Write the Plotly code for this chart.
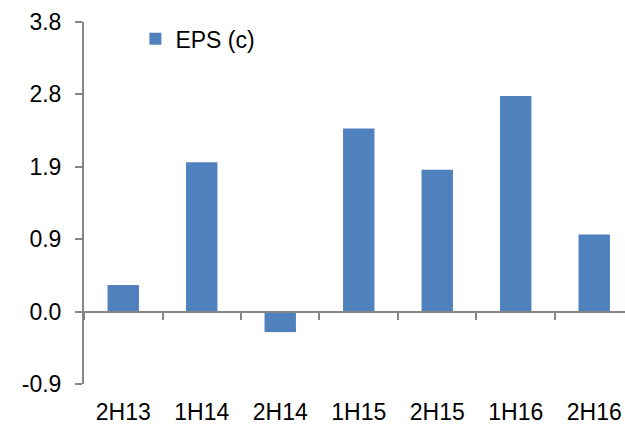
import plotly.graph_objects as go

# Half-year periods and earnings per share (cents)
periods = ["2H13", "1H14", "2H14", "1H15", "2H15", "1H16", "2H16"]
eps_cents = [0.345, 1.94, -0.266, 2.376, 1.842, 2.80, 1.00]

# Value-axis scale: major unit 0.94 from -0.94 to 3.76
y_min, y_max, y_step = -0.94, 3.76, 0.94
y_ticks = [round(y_min + i * y_step, 2) for i in range(6)]
y_tick_labels = [f"{v:.1f}" for v in y_ticks]

BAR_BLUE = "#4F81BD"
AXIS_GREY = "#868686"
FONT = "Liberation Sans, Arial, sans-serif"

fig = go.Figure()

fig.add_trace(go.Bar(
    x=periods,
    y=eps_cents,
    name="EPS (c)",
    marker=dict(color=BAR_BLUE, line=dict(width=0)),
    width=0.4,
    xaxis="x",
    yaxis="y",
))

# Invisible companion trace so the crossing axis at zero knows its categories
fig.add_trace(go.Scatter(
    x=periods,
    y=eps_cents,
    mode="markers",
    marker=dict(opacity=0),
    showlegend=False,
    hoverinfo="skip",
    xaxis="x2",
    yaxis="y",
))

x_range = [-0.5, 6.392]

fig.update_layout(
    width=625,
    height=425,
    margin=dict(l=84, r=0, t=22, b=39, pad=0),
    paper_bgcolor="white",
    plot_bgcolor="white",
    font=dict(family=FONT, size=23, color="black"),
    showlegend=True,
    legend=dict(
        x=0.095, y=1.013, xanchor="left", yanchor="top",
        bgcolor="rgba(0,0,0,0)",
        font=dict(family=FONT, size=23, color="black"),
        itemwidth=30,
    ),
    xaxis=dict(
        type="category",
        categoryorder="array",
        categoryarray=periods,
        range=x_range,
        showline=False,
        showgrid=False,
        zeroline=False,
        ticks="",
        tickfont=dict(family=FONT, size=23, color="black"),
        ticklabelstandoff=12,
    ),
    xaxis2=dict(
        type="category",
        categoryorder="array",
        categoryarray=periods,
        range=x_range,
        overlaying="x",
        anchor="free",
        position=(0 - y_min) / (y_max - y_min),
        side="bottom",
        showline=True,
        linecolor=AXIS_GREY,
        linewidth=2,
        showgrid=False,
        zeroline=False,
        ticks="outside",
        tickson="boundaries",
        ticklen=7,
        tickwidth=2,
        tickcolor=AXIS_GREY,
        showticklabels=False,
    ),
    yaxis=dict(
        range=[y_min, y_max],
        tickmode="array",
        tickvals=y_ticks,
        ticktext=y_tick_labels,
        showline=True,
        linecolor=AXIS_GREY,
        linewidth=2,
        showgrid=False,
        zeroline=False,
        ticks="outside",
        ticklen=7,
        tickwidth=2,
        tickcolor=AXIS_GREY,
        tickfont=dict(family=FONT, size=23, color="black"),
        ticklabelstandoff=9,
    ),
)

fig.write_html("out.html")
